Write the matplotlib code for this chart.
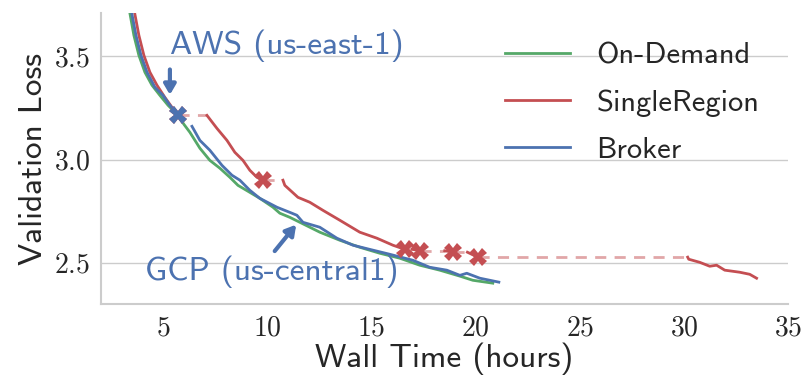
import numpy as np
import matplotlib
matplotlib.use("Agg")
import matplotlib.pyplot as plt
from matplotlib.ticker import FuncFormatter

plt.rcParams['font.family'] = 'cmss10'
plt.rcParams['mathtext.fontset'] = 'cm'
plt.rcParams['axes.unicode_minus'] = False

GREEN = '#55A868'
RED = '#C44E52'
BLUE = '#4C72B0'
GRID = '#cccccc'

# on-demand run, never preempted
od_hours = [3.20, 3.39, 3.58, 3.82, 4.11, 4.45, 4.83, 5.22, 5.70, 5.98, 6.27, 6.75,
            7.23, 7.71, 8.19, 8.58, 9.15, 9.63, 10.26, 10.59, 11.07, 11.55, 12.51,
            13.47, 14.43, 15.39, 16.35, 17.31, 18.27, 19.24, 19.86, 20.82]
od_loss = [3.844, 3.708, 3.602, 3.505, 3.423, 3.360, 3.311, 3.263, 3.214, 3.171, 3.132,
           3.055, 2.996, 2.958, 2.914, 2.875, 2.841, 2.812, 2.769, 2.740, 2.720, 2.696,
           2.648, 2.609, 2.575, 2.546, 2.522, 2.488, 2.464, 2.435, 2.415, 2.401]

# broker run: migrates from AWS to GCP after the first preemption (gap = nan)
broker_hours = [3.34, 3.49, 3.68, 3.92, 4.21, 4.59, 4.98, 5.31, 5.70, np.nan,
                6.37, 6.75, 7.23, 7.81, 8.29, 8.67, 9.15, 9.63, 10.45, 11.17, 11.41,
                11.70, 12.51, 13.33, 14.10, 15.06, 15.87, 16.98, 17.79, 18.61, 19.24,
                19.57, 20.20, 21.11]
broker_loss = [3.820, 3.703, 3.602, 3.505, 3.423, 3.350, 3.311, 3.263, 3.214, np.nan,
               3.161, 3.093, 3.045, 2.972, 2.924, 2.900, 2.851, 2.812, 2.769, 2.740,
               2.730, 2.696, 2.672, 2.619, 2.585, 2.561, 2.541, 2.512, 2.478, 2.464,
               2.439, 2.449, 2.425, 2.406]
migrate_hour = 5.70
migrate_loss = 3.214

# single-region run, one list per stretch between preemptions
single_hours = [
    [3.44, 3.63, 3.82, 4.06, 4.35, 4.69, 5.07, 5.41, 5.70],
    [7.09, 7.57, 8.05, 8.43, 8.82, 9.15, 9.49, 9.78],
    [10.74, 10.83, 11.46, 12.03, 12.66, 13.47, 14.43, 15.25, 16.02, 16.59],
    [16.95, 17.31],
    [18.51, 18.90],
    [19.60, 20.10],
    [30.18, 30.23, 30.76, 31.24, 31.57, 31.96, 32.68, 33.16, 33.49],
]
single_loss = [
    [3.820, 3.703, 3.602, 3.505, 3.423, 3.360, 3.301, 3.253, 3.214],
    [3.214, 3.151, 3.093, 3.035, 2.996, 2.948, 2.914, 2.900],
    [2.900, 2.875, 2.817, 2.793, 2.754, 2.706, 2.648, 2.619, 2.585, 2.565],
    [2.565, 2.558],
    [2.558, 2.551],
    [2.551, 2.527],
    [2.527, 2.517, 2.502, 2.483, 2.488, 2.464, 2.454, 2.444, 2.425],
]

fig = plt.figure(figsize=(8.06, 3.84), dpi=100)
ax = fig.add_axes([0.1253, 0.2083, 0.8524, 0.7578])

ax.plot(od_hours, od_loss, color=GREEN, lw=2, label='On-Demand')

# waiting for capacity: dashed from each preemption to the restart
for i in range(len(single_hours) - 1):
    ax.plot([single_hours[i][-1], single_hours[i + 1][0]],
            [single_loss[i][-1], single_loss[i + 1][0]],
            color=RED, alpha=0.5, lw=2, ls=(0, (4, 3)), zorder=2)
for i, (h, l) in enumerate(zip(single_hours, single_loss)):
    ax.plot(h, l, color=RED, lw=2, label='SingleRegion' if i == 0 else None, zorder=3)
pre_h = [h[-1] for h in single_hours[:-1]]
pre_l = [l[-1] for l in single_loss[:-1]]
ax.plot(pre_h, pre_l, ls='none', marker='X', ms=12.5, mew=0, color=RED, zorder=5)

ax.plot(broker_hours, broker_loss, color=BLUE, lw=2, label='Broker', zorder=4)
ax.plot([migrate_hour], [migrate_loss], ls='none', marker='X', ms=12.5, mew=0,
        color=BLUE, zorder=6)

ax.text(5.31, 3.553, 'AWS (us-east-1)', fontsize=24, color=BLUE,
        ha='left', va='center')
ax.annotate('', xy=(5.31, 3.30), xytext=(5.31, 3.45),
            arrowprops=dict(arrowstyle='-|>,head_width=0.35,head_length=0.6',
                            color=BLUE, lw=3))
ax.text(4.11, 2.454, 'GCP (us-central1)', fontsize=24, color=BLUE,
        ha='left', va='center')
ax.annotate('', xy=(11.46, 2.695), xytext=(10.26, 2.546),
            arrowprops=dict(arrowstyle='-|>,head_width=0.35,head_length=0.6',
                            color=BLUE, lw=3))

ax.set_xlim(2, 35)
ax.set_ylim(2.3, 3.71)
ax.set_xticks([5, 10, 15, 20, 25, 30, 35])
ax.set_yticks([2.5, 3.0, 3.5])
ax.xaxis.set_major_formatter(FuncFormatter(lambda v, p: '$%g$' % v))
ax.yaxis.set_major_formatter(FuncFormatter(lambda v, p: '$%.1f$' % v))
ax.tick_params(length=0, labelsize=20, pad=8, labelcolor='#262626')
ax.grid(axis='y', color=GRID, lw=1)
ax.set_axisbelow(True)
for s in ['top', 'right']:
    ax.spines[s].set_visible(False)
for s in ['left', 'bottom']:
    ax.spines[s].set_color(GRID)
    ax.spines[s].set_linewidth(1.5)

ax.set_xlabel('Wall Time (hours)', fontsize=24, color='#262626', labelpad=2)
ax.set_ylabel('Validation Loss', fontsize=24, color='#262626', labelpad=4)

leg = ax.legend(loc='upper left', bbox_to_anchor=(0.5875, 0.90), frameon=False,
                fontsize=22, handlelength=2.15, handletextpad=0.85,
                labelspacing=0.65, borderpad=0, borderaxespad=0)
for t in leg.get_texts():
    t.set_color('#262626')

fig.savefig('out.png', dpi=100)
